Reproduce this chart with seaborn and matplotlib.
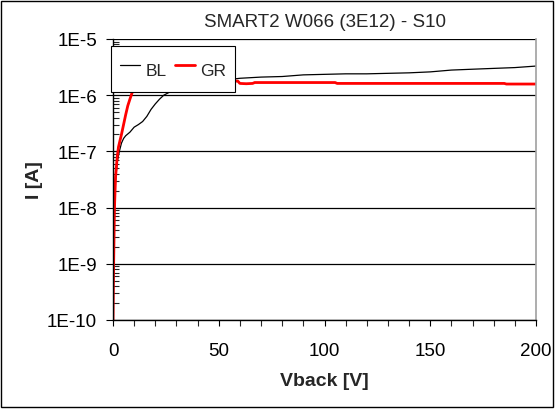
import numpy as np
import pandas as pd
import matplotlib
matplotlib.use("Agg")
import matplotlib.pyplot as plt
import seaborn as sns
from matplotlib.ticker import LogLocator, FixedLocator, MultipleLocator
from matplotlib.patches import Rectangle

# Back-bias sweep: bulk (BL) and guard-ring (GR) currents
bl_v = [0.0, 0.3, 0.7, 1.2, 2.0, 3.0, 4.0, 5.0, 6.0, 8.0, 10.0, 12.0, 14.0, 16.0,
        18.0, 20.0, 22.0, 24.0, 28.0, 35.0, 45.0, 55.0, 60.0, 70.0, 80.0, 90.0,
        100.0, 110.0, 120.0, 130.0, 140.0, 150.0, 160.0, 170.0, 180.0, 190.0, 200.0]
bl_i = [1.0e-10, 1.0e-9, 8.0e-9, 3.0e-8, 6.5e-8, 1.0e-7, 1.4e-7, 1.7e-7, 1.9e-7,
        2.2e-7, 2.7e-7, 3.0e-7, 3.4e-7, 4.2e-7, 5.6e-7, 7.0e-7, 8.5e-7, 1.0e-6,
        1.2e-6, 1.45e-6, 1.7e-6, 1.9e-6, 2.0e-6, 2.1e-6, 2.15e-6, 2.3e-6,
        2.35e-6, 2.4e-6, 2.4e-6, 2.45e-6, 2.5e-6, 2.6e-6, 2.8e-6, 2.9e-6,
        3.0e-6, 3.1e-6, 3.3e-6]

gr_v = [0.0, 0.3, 0.7, 1.2, 2.0, 2.6, 3.2, 4.0, 5.0, 6.0, 7.0, 8.0, 9.0, 10.0,
        12.0, 15.0, 20.0, 30.0, 40.0, 55.0, 59.0, 60.0, 63.0, 66.0, 67.0, 80.0,
        100.0, 105.0, 106.0, 120.0, 150.0, 170.0, 185.0, 186.0, 200.0]
gr_i = [1.0e-10, 1.0e-9, 1.0e-8, 3.5e-8, 8.0e-8, 1.2e-7, 1.5e-7, 2.0e-7, 3.0e-7,
        4.5e-7, 6.5e-7, 8.5e-7, 1.1e-6, 1.3e-6, 1.5e-6, 1.6e-6, 1.65e-6,
        1.7e-6, 1.75e-6, 1.78e-6, 1.78e-6, 1.62e-6, 1.6e-6, 1.62e-6, 1.68e-6,
        1.68e-6, 1.68e-6, 1.68e-6, 1.62e-6, 1.62e-6, 1.62e-6, 1.62e-6,
        1.62e-6, 1.58e-6, 1.58e-6]

x_ticks = [0, 50, 100, 150, 200]
y_ticks = [1e-10, 1e-9, 1e-8, 1e-7, 1e-6, 1e-5]
y_labels = ["1E-10", "1E-9", "1E-8", "1E-7", "1E-6", "1E-5"]

sns.set_theme(style="ticks")
plt.rcParams["font.family"] = ["Liberation Sans", "DejaVu Sans"]

fig = plt.figure(figsize=(5.56, 4.10), dpi=100)
ax = fig.add_axes([113 / 556, 1 - 321 / 410, (536 - 113) / 556, (321 - 40) / 410])

df = pd.concat([
    pd.DataFrame({"V": bl_v, "I": bl_i, "series": "BL"}),
    pd.DataFrame({"V": gr_v, "I": gr_i, "series": "GR"}),
])
sns.lineplot(data=df[df.series == "BL"], x="V", y="I", ax=ax, color="black",
             lw=0.9, label="BL", estimator=None, sort=False)
sns.lineplot(data=df[df.series == "GR"], x="V", y="I", ax=ax, color="#ff0000",
             lw=2.0, label="GR", estimator=None, sort=False)

ax.set_yscale("log")
ax.set_xlim(0, 200)
ax.set_ylim(1e-10, 1e-5)
ax.set_xticks(x_ticks)
ax.set_xticklabels([str(t) for t in x_ticks])
ax.xaxis.set_minor_locator(MultipleLocator(10))
ax.yaxis.set_major_locator(FixedLocator(y_ticks))
ax.set_yticklabels(y_labels)
ax.yaxis.set_minor_locator(LogLocator(base=10, subs=np.arange(2, 10)))

for yv in y_ticks:
    ax.axhline(yv, color="black", lw=0.9, zorder=0.5)

ax.tick_params(axis="both", which="major", labelsize=13.5, colors="black",
               labelcolor="black")
ax.tick_params(axis="x", which="major", direction="out", length=4, width=0.8,
               pad=12, bottom=True, top=False)
ax.tick_params(axis="x", which="minor", direction="out", length=4, width=0.8,
               bottom=True, top=False)
ax.tick_params(axis="y", which="major", direction="out", length=5, width=0.8,
               left=True, right=False, pad=6.5)
ax.tick_params(axis="y", which="minor", direction="in", length=4, width=0.8,
               left=True, right=False)

ax.spines["top"].set_visible(False)
ax.spines["right"].set_visible(True)
ax.spines["right"].set_color("#a0a0a0")
ax.spines["right"].set_linewidth(1.2)
ax.spines["left"].set_color("black")
ax.spines["left"].set_linewidth(1.0)
ax.spines["bottom"].set_color("black")
ax.spines["bottom"].set_linewidth(1.0)

ax.set_title("SMART2 W066 (3E12) - S10", fontsize=13.5, pad=9)
ax.set_xlabel("Vback [V]", fontsize=14, fontweight="bold", labelpad=9)
ax.set_ylabel("I [A]", fontsize=14, fontweight="bold", labelpad=3)

leg = ax.legend(loc="upper left", bbox_to_anchor=(-0.005, 0.975), ncol=2,
                frameon=True, fancybox=False, fontsize=12.5, handlelength=1.2,
                columnspacing=0.45, handletextpad=0.3, borderpad=0.5,
                handleheight=2.2, framealpha=1.0, borderaxespad=0.0)
leg.get_frame().set_edgecolor("black")
leg.get_frame().set_linewidth(0.8)
leg.set_zorder(5)

fig.patches.append(Rectangle((0.002, 0.006), 0.992, 0.99, transform=fig.transFigure,
                             fill=False, edgecolor="black", lw=1.0))

fig.savefig("out.png", dpi=100)
